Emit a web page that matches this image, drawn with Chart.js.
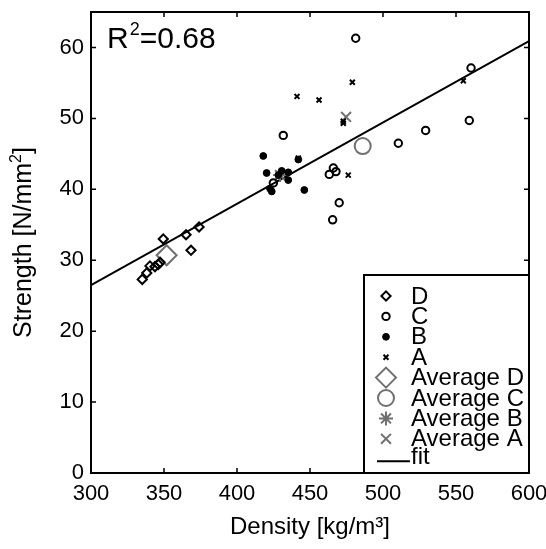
<!DOCTYPE html>
<html><head><meta charset="utf-8">
<script src="https://cdn.jsdelivr.net/npm/chart.js@4/dist/chart.umd.min.js"></script>
<style>html,body{margin:0;padding:0;background:#fff}</style>
</head><body>
<canvas id="c" width="546" height="549"></canvas>
<script>
// ---- data ----
const dX = [349.5, 365.1, 374.0, 368.5, 335.1, 338.2, 340.4, 343.8, 346.1, 347.3];
const dY = [33.0, 33.6, 34.7, 31.4, 27.3, 28.2, 29.2, 29.1, 29.4, 29.7];
const cX = [481.3, 560.3, 559.1, 529.2, 510.5, 466.0, 463.2, 467.8, 470.0, 465.5, 431.7, 424.9];
const cY = [61.3, 57.1, 49.7, 48.3, 46.5, 43.0, 42.1, 42.5, 38.1, 35.7, 47.6, 40.9];
const bX = [418.0, 420.3, 435.1, 435.1, 442.0, 446.1, 422.6, 423.8, 430.6, 428.3];
const bY = [44.7, 42.3, 42.4, 41.3, 44.2, 39.9, 40.1, 39.7, 42.6, 42.0];
const aX = [479.0, 456.2, 472.8, 472.8, 555.0, 476.2, 441.1, 442.0];
const aY = [55.1, 52.6, 49.3, 49.6, 55.3, 42.0, 53.1, 44.4];
const avgD = [351.8, 30.7];
const avgC = [486.1, 46.1];
const avgB = [429.5, 42.0];
const avgA = [474.7, 50.2];
const fitX = [300, 600];
const fitY = [26.5, 60.9];
const xTicks = [300, 350, 400, 450, 500, 550, 600];
const yTicks = [0, 10, 20, 30, 40, 50, 60];
const rSquared = '0.68';

const FONT = '"Liberation Sans", Arial, sans-serif';
const GRAY = '#707070';
const pts = (xs, ys) => xs.map((x, i) => ({x, y: ys[i]}));

const series = [
  {label: 'D', data: pts(dX, dY), style: 'rectRot', r: 4.6, color: '#000', fill: false, bw: 2},
  {label: 'C', data: pts(cX, cY), style: 'circle', r: 3.7, color: '#000', fill: false, bw: 2},
  {label: 'B', data: pts(bX, bY), style: 'circle', r: 3.4, color: '#000', fill: true, bw: 1},
  {label: 'A', data: pts(aX, aY), style: 'crossRot', r: 3.5, color: '#000', fill: false, bw: 2},
  {label: 'Average D', data: [{x: avgD[0], y: avgD[1]}], style: 'rectRot', r: 10, color: GRAY, fill: false, bw: 2},
  {label: 'Average C', data: [{x: avgC[0], y: avgC[1]}], style: 'circle', r: 8, color: GRAY, fill: false, bw: 2},
  {label: 'Average B', data: [{x: avgB[0], y: avgB[1]}], style: 'star', r: 7, color: GRAY, fill: false, bw: 2},
  {label: 'Average A', data: [{x: avgA[0], y: avgA[1]}], style: 'crossRot', r: 7, color: GRAY, fill: false, bw: 2}
];

const datasets = series.map((s, i) => ({
  type: 'scatter', label: s.label, data: s.data,
  pointStyle: s.style, pointRadius: s.r, pointHoverRadius: s.r,
  borderColor: s.color, backgroundColor: s.fill ? s.color : 'rgba(0,0,0,0)',
  pointBorderWidth: s.bw, borderWidth: s.bw, order: i
}));
datasets.push({
  type: 'line', label: 'fit', data: pts(fitX, fitY),
  borderColor: '#000', borderWidth: 2, pointRadius: 0, fill: false, order: 20
});

function drawMarker(ctx, s, x, y) {
  ctx.save();
  ctx.strokeStyle = s.color; ctx.fillStyle = s.color; ctx.lineWidth = s.bw;
  const r = s.r;
  ctx.beginPath();
  if (s.style === 'circle') {
    ctx.arc(x, y, r, 0, Math.PI * 2);
    if (s.fill) ctx.fill();
    ctx.stroke();
  } else if (s.style === 'rectRot') {
    ctx.moveTo(x, y - r); ctx.lineTo(x + r, y); ctx.lineTo(x, y + r); ctx.lineTo(x - r, y); ctx.closePath();
    ctx.stroke();
  } else if (s.style === 'crossRot') {
    const d = r * Math.SQRT1_2;
    ctx.moveTo(x - d, y - d); ctx.lineTo(x + d, y + d);
    ctx.moveTo(x + d, y - d); ctx.lineTo(x - d, y + d);
    ctx.stroke();
  } else if (s.style === 'star') {
    const d = r * Math.SQRT1_2;
    ctx.moveTo(x - d, y - d); ctx.lineTo(x + d, y + d);
    ctx.moveTo(x + d, y - d); ctx.lineTo(x - d, y + d);
    ctx.moveTo(x, y - r); ctx.lineTo(x, y + r);
    ctx.moveTo(x - r, y); ctx.lineTo(x + r, y);
    ctx.stroke();
  }
  ctx.restore();
}

const decor = {
  id: 'decor',
  afterDraw(chart) {
    const ctx = chart.ctx, a = chart.chartArea;
    const xs = chart.scales.x, ys = chart.scales.y;
    ctx.save();
    ctx.strokeStyle = '#000'; ctx.lineWidth = 2;
    ctx.strokeRect(a.left, a.top, a.right - a.left, a.bottom - a.top);
    ctx.lineWidth = 1.5;
    ctx.beginPath();
    xTicks.forEach(v => {
      const p = xs.getPixelForValue(v);
      ctx.moveTo(p, a.bottom); ctx.lineTo(p, a.bottom - 5);
      ctx.moveTo(p, a.top); ctx.lineTo(p, a.top + 5);
    });
    yTicks.forEach(v => {
      const p = ys.getPixelForValue(v);
      ctx.moveTo(a.left, p); ctx.lineTo(a.left + 5, p);
      ctx.moveTo(a.right, p); ctx.lineTo(a.right - 5, p);
    });
    ctx.stroke();

    // R^2 annotation
    ctx.fillStyle = '#000';
    ctx.textBaseline = 'alphabetic';
    ctx.textAlign = 'left';
    let tx = a.left + 16, ty = a.top + 36;
    ctx.font = '30px ' + FONT;
    ctx.fillText('R', tx, ty);
    tx += ctx.measureText('R').width + 1;
    ctx.font = '18px ' + FONT;
    ctx.fillText('2', tx, ty - 13);
    tx += ctx.measureText('2').width;
    ctx.font = '30px ' + FONT;
    ctx.fillText('=' + rSquared, tx, ty);

    // y axis title with real superscript
    ctx.save();
    const cy = (a.top + a.bottom) / 2;
    ctx.translate(31, cy);
    ctx.rotate(-Math.PI / 2);
    const main = 'Strength [N/mm', sup = '2', tail = ']';
    ctx.font = '25px ' + FONT;
    const w1 = ctx.measureText(main).width, w3 = ctx.measureText(tail).width;
    ctx.font = '16px ' + FONT;
    const w2 = ctx.measureText(sup).width;
    let px = -(w1 + w2 + w3) / 2;
    ctx.font = '25px ' + FONT;
    ctx.fillText(main, px, 0);
    px += w1;
    ctx.font = '16px ' + FONT;
    ctx.fillText(sup, px, -10);
    px += w2;
    ctx.font = '25px ' + FONT;
    ctx.fillText(tail, px, 0);
    ctx.restore();

    // legend box
    const L = 364, T = 275, R = a.right, B = a.bottom;
    ctx.fillStyle = '#fff';
    ctx.fillRect(L, T, R - L, B - T);
    ctx.lineWidth = 2; ctx.strokeStyle = '#000';
    ctx.strokeRect(L, T, R - L, B - T);
    ctx.font = '24px ' + FONT;
    ctx.textBaseline = 'middle';
    const step = 20.4;
    series.forEach((s, i) => {
      const y = 296 + i * step;
      drawMarker(ctx, s, 386, y);
      ctx.fillStyle = '#000';
      ctx.fillText(s.label, 411, y + 1);
    });
    const fy = 296 + series.length * step;
    ctx.beginPath(); ctx.lineWidth = 2; ctx.strokeStyle = '#000';
    ctx.moveTo(377, fy + 2); ctx.lineTo(410, fy + 2); ctx.stroke();
    ctx.fillStyle = '#000';
    ctx.fillText('fit', 411, fy - 2);
    ctx.restore();
  }
};

const noPad = s => { s.paddingTop = 0; s.paddingBottom = 0; s.paddingLeft = 0; s.paddingRight = 0; };

new Chart(document.getElementById('c'), {
  data: {datasets},
  options: {
    responsive: false, animation: false,
    layout: {padding: {left: 0, right: 17, top: 6, bottom: 0}},
    plugins: {legend: {display: false}, tooltip: {enabled: false}},
    scales: {
      x: {
        type: 'linear', min: 300, max: 600,
        grid: {display: false, drawTicks: false}, border: {display: false},
        afterBuildTicks: s => { s.ticks = xTicks.map(v => ({value: v})); },
        afterFit: s => { s.height = 76; noPad(s); },
        ticks: {color: '#000', padding: 8, font: {family: FONT, size: 22}, maxRotation: 0, autoSkip: false},
        title: {display: true, text: 'Density [kg/m³]', color: '#000', font: {family: FONT, size: 24}, padding: {top: 0, bottom: 7}}
      },
      y: {
        type: 'linear', min: 0, max: 65,
        grid: {display: false, drawTicks: false}, border: {display: false},
        afterBuildTicks: s => { s.ticks = yTicks.map(v => ({value: v})); },
        afterFit: s => { s.width = 91; noPad(s); },
        ticks: {color: '#000', padding: 7, font: {family: FONT, size: 22}, autoSkip: false},
        title: {display: false}
      }
    }
  },
  plugins: [decor]
});
</script>
</body></html>
